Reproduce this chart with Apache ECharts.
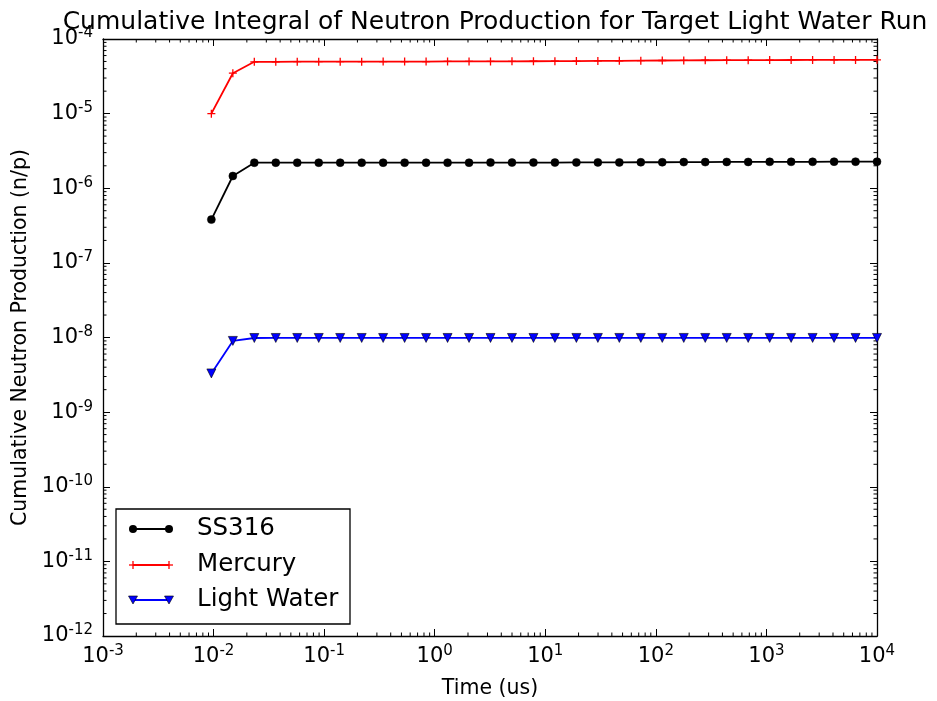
<!DOCTYPE html>
<html>
<head>
<meta charset="utf-8">
<script src="https://cdn.jsdelivr.net/npm/echarts@6/dist/echarts.min.js"></script>
<style>html,body{margin:0;padding:0;background:#fff}#c{width:937px;height:701px}</style>
</head>
<body>
<div id="c"></div>
<script>
// ---- data ----
const times = [0.00955, 0.01494, 0.02336, 0.03652, 0.05711, 0.08933, 0.1397, 0.2185, 0.3417, 0.5344,
  0.8356, 1.307, 2.044, 3.196, 4.998, 7.816, 12.22, 19.11, 29.89, 46.74,
  73.11, 114.3, 178.8, 279.6, 437.3, 683.9, 1070, 1673, 2616, 4091, 6397, 10000];
const ss316 = [3.8e-7, 1.46e-6, 2.2e-6, 2.2e-6, 2.2e-6, 2.2e-6, 2.2e-6, 2.2e-6, 2.2e-6, 2.2e-6,
  2.2e-6, 2.2e-6, 2.2e-6, 2.21e-6, 2.21e-6, 2.21e-6, 2.21e-6, 2.22e-6, 2.22e-6, 2.22e-6,
  2.23e-6, 2.23e-6, 2.24e-6, 2.24e-6, 2.25e-6, 2.25e-6, 2.26e-6, 2.26e-6, 2.26e-6, 2.27e-6, 2.27e-6, 2.27e-6];
const mercury = [1.0e-5, 3.48e-5, 4.95e-5, 4.95e-5, 4.96e-5, 4.96e-5, 4.97e-5, 4.97e-5, 4.98e-5, 4.98e-5,
  4.99e-5, 5.0e-5, 5.0e-5, 5.01e-5, 5.02e-5, 5.03e-5, 5.04e-5, 5.06e-5, 5.08e-5, 5.1e-5,
  5.13e-5, 5.15e-5, 5.17e-5, 5.19e-5, 5.2e-5, 5.21e-5, 5.22e-5, 5.23e-5, 5.24e-5, 5.25e-5, 5.25e-5, 5.26e-5];
const lightWater = [3.3e-9, 9.0e-9, 9.85e-9, 9.86e-9, 9.86e-9, 9.86e-9, 9.86e-9, 9.86e-9, 9.86e-9, 9.86e-9,
  9.86e-9, 9.86e-9, 9.86e-9, 9.86e-9, 9.86e-9, 9.86e-9, 9.87e-9, 9.87e-9, 9.87e-9, 9.87e-9,
  9.87e-9, 9.87e-9, 9.87e-9, 9.87e-9, 9.87e-9, 9.87e-9, 9.87e-9, 9.87e-9, 9.87e-9, 9.87e-9, 9.87e-9, 9.87e-9];
const seriesNames = ['SS316', 'Mercury', 'Light Water'];
const titleText = 'Cumulative Integral of Neutron Production for Target Light Water Run';
const xLabel = 'Time (us)';
const yLabel = 'Cumulative Neutron Production (n/p)';
const xDecades = [-3, -2, -1, 0, 1, 2, 3, 4];
const yDecades = [-12, -11, -10, -9, -8, -7, -6, -5, -4];

// ---- helpers ----
const FONT = 'DejaVu Sans';
const minorX = [], minorY = [];
for (let i = 0; i < xDecades.length - 1; i++) for (let m = 2; m <= 9; m++) minorX.push(m * Math.pow(10, xDecades[i]));
for (let i = 0; i < yDecades.length - 1; i++) for (let m = 2; m <= 9; m++) minorY.push(m * Math.pow(10, yDecades[i]));

function expLabel(v) {
  const e = Math.round(Math.log10(v));
  return '{b|10}{s|' + e + '}';
}
const rich = {
  b: { fontSize: 21, fontFamily: FONT, color: '#000', lineHeight: 26 },
  s: { fontSize: 15, fontFamily: FONT, color: '#000', verticalAlign: 'top', lineHeight: 26 }
};

const chart = echarts.init(document.getElementById('c'), null, { renderer: 'canvas' });
const pair = (xs, ys) => xs.map((x, i) => [x, ys[i]]);

const plusPath = 'path://M0,5L10,5M5,0L5,10';
const axisLineStyle = { color: '#000', width: 1.3 };
const tickStyle = { show: true, inside: true, length: 7, lineStyle: { color: '#000', width: 1 } };

const option = {
  animation: false,
  backgroundColor: '#fff',
  title: {
    text: titleText, left: 490, top: 5, textAlign: 'center',
    textStyle: { fontFamily: FONT, fontSize: 25, fontWeight: 'normal', color: '#000' }
  },
  grid: { left: 103, right: 60, top: 39, bottom: 65, show: false, containLabel: false, outerBoundsMode: 'none' },
  xAxis: [{
    type: 'log', logBase: 10, min: 1e-3, max: 1e4, position: 'bottom',
    name: xLabel, nameLocation: 'middle', nameGap: 42,
    nameTextStyle: { fontFamily: FONT, fontSize: 20.5, color: '#000' },
    axisLine: { show: true, onZero: false, lineStyle: axisLineStyle },
    axisTick: tickStyle,
    axisLabel: { show: true, margin: 8, formatter: expLabel, rich: rich },
    splitLine: { show: false }
  }, {
    type: 'log', logBase: 10, min: 1e-3, max: 1e4, position: 'top',
    axisLine: { show: true, onZero: false, lineStyle: axisLineStyle },
    axisTick: tickStyle,
    axisLabel: { show: false }, splitLine: { show: false }
  }],
  yAxis: [{
    type: 'log', logBase: 10, min: 1e-12, max: 1e-4, position: 'left',
    name: yLabel, nameLocation: 'middle', nameGap: 72, nameRotate: 90,
    nameTextStyle: { fontFamily: FONT, fontSize: 20.5, color: '#000' },
    axisLine: { show: true, onZero: false, lineStyle: axisLineStyle },
    axisTick: tickStyle,
    axisLabel: { show: true, margin: 10, formatter: expLabel, rich: rich },
    splitLine: { show: false }
  }, {
    type: 'log', logBase: 10, min: 1e-12, max: 1e-4, position: 'right',
    axisLine: { show: true, onZero: false, lineStyle: axisLineStyle },
    axisTick: tickStyle,
    axisLabel: { show: false }, splitLine: { show: false }
  }],
  series: [
    {
      type: 'custom', name: 'minorX', silent: true, xAxisIndex: 0, yAxisIndex: 0,
      data: minorX.map(v => [v, 1e-8]),
      renderItem: function (params, api) {
        const p = api.coord([api.value(0), api.value(1)]);
        const cs = params.coordSys;
        const st = { stroke: '#000', lineWidth: 1 };
        return { type: 'group', children: [
          { type: 'line', shape: { x1: p[0], y1: cs.y + cs.height, x2: p[0], y2: cs.y + cs.height - 3.5 }, style: st },
          { type: 'line', shape: { x1: p[0], y1: cs.y, x2: p[0], y2: cs.y + 3.5 }, style: st }
        ] };
      }, z: 1
    },
    {
      type: 'custom', name: 'minorY', silent: true, xAxisIndex: 0, yAxisIndex: 0,
      data: minorY.map(v => [1, v]),
      renderItem: function (params, api) {
        const p = api.coord([api.value(0), api.value(1)]);
        const cs = params.coordSys;
        const st = { stroke: '#000', lineWidth: 1 };
        return { type: 'group', children: [
          { type: 'line', shape: { x1: cs.x, y1: p[1], x2: cs.x + 3.5, y2: p[1] }, style: st },
          { type: 'line', shape: { x1: cs.x + cs.width, y1: p[1], x2: cs.x + cs.width - 3.5, y2: p[1] }, style: st }
        ] };
      }, z: 1
    },
    {
      type: 'line', name: seriesNames[0], data: pair(times, ss316),
      symbol: 'circle', symbolSize: 8, showAllSymbol: true, clip: false,
      lineStyle: { color: '#000', width: 1.8 },
      itemStyle: { color: '#000', borderColor: '#000', borderWidth: 0.5 }, z: 3
    },
    {
      type: 'line', name: seriesNames[1], data: pair(times, mercury),
      symbol: plusPath, symbolSize: 8, showAllSymbol: true, clip: false,
      lineStyle: { color: '#ff0000', width: 1.8 },
      itemStyle: { color: 'rgba(0,0,0,0)', borderColor: '#ff0000', borderWidth: 1.3 }, z: 3
    },
    {
      type: 'line', name: seriesNames[2], data: pair(times, lightWater),
      symbol: 'triangle', symbolRotate: 180, symbolSize: 9, showAllSymbol: true, clip: false,
      lineStyle: { color: '#0000ff', width: 1.8 },
      itemStyle: { color: '#0000ff', borderColor: '#000', borderWidth: 0.6 }, z: 3
    }
  ],
  graphic: []
};

// legend drawn as graphic box (matplotlib style with markers at both ends)
const lg = { x: 116, y: 509, w: 234, h: 115 };
const rows = [529, 565, 600];
const children = [{
  type: 'rect', shape: { x: lg.x, y: lg.y, width: lg.w, height: lg.h },
  style: { fill: '#fff', stroke: '#000', lineWidth: 1.3 }, z: 10
}];
const colors = ['#000', '#ff0000', '#0000ff'];
rows.forEach((ry, i) => {
  children.push({ type: 'line', shape: { x1: 133, y1: ry, x2: 169, y2: ry }, style: { stroke: colors[i], lineWidth: 1.8 }, z: 11 });
  [133, 169].forEach(mx => {
    if (i === 0) children.push({ type: 'circle', shape: { cx: mx, cy: ry, r: 4 }, style: { fill: '#000' }, z: 12 });
    if (i === 1) {
      children.push({ type: 'line', shape: { x1: mx - 4, y1: ry, x2: mx + 4, y2: ry }, style: { stroke: '#ff0000', lineWidth: 1.3 }, z: 12 });
      children.push({ type: 'line', shape: { x1: mx, y1: ry - 4, x2: mx, y2: ry + 4 }, style: { stroke: '#ff0000', lineWidth: 1.3 }, z: 12 });
    }
    if (i === 2) children.push({ type: 'polygon', shape: { points: [[mx - 4.5, ry - 4], [mx + 4.5, ry - 4], [mx, ry + 4]] }, style: { fill: '#0000ff', stroke: '#000', lineWidth: 0.6 }, z: 12 });
  });
  children.push({ type: 'text', x: 197, y: ry, style: { text: seriesNames[i], font: '24.5px "DejaVu Sans"', fill: '#000', verticalAlign: 'middle' }, z: 12 });
});
option.graphic = [{ type: 'group', children: children }];

chart.setOption(option);
</script>
</body>
</html>
